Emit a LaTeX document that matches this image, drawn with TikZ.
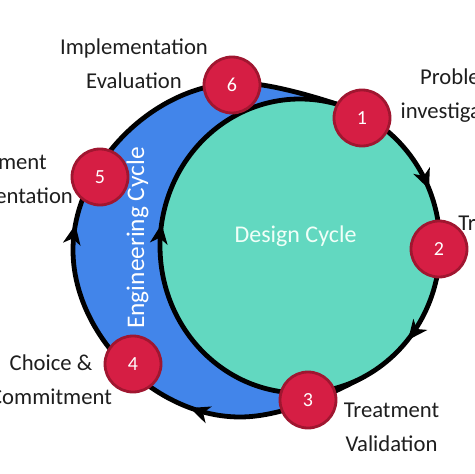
\documentclass[tikz,border=0pt]{standalone}
\usepackage{fontspec}
\setmainfont{Carlito}

\definecolor{dcTeal}{RGB}{98,216,192}
\definecolor{ecBlue}{RGB}{66,133,234}
\definecolor{stepRed}{RGB}{214,30,68}
\definecolor{stepEdge}{RGB}{160,22,48}
\definecolor{lblGray}{RGB}{30,30,30}

\tikzset{every picture/.style={line width=0.75pt}}
\tikzset{
  stepnode/.style={circle, fill=stepRed, draw=stepEdge, line width=2.1pt, minimum size=42pt, inner sep=0pt, text=white, font=\fontsize{15}{17}\selectfont},
  steplabel/.style={inner sep=0.75pt, align=center, text=lblGray, font=\fontsize{17}{25.5}\selectfont},
  cycleline/.style={line width=3.6pt, line join=round, line cap=round}
}

\begin{document}
\begin{tikzpicture}[x=0.75pt,y=0.75pt,yscale=-1,xscale=1]
%uncomment if require: \path (0,474); %set diagram left start at 0, and has height of 474
\useasboundingbox (0,0) rectangle (474,474);

%Shape: Engineering Cycle band [id:dp1]
\fill [ecBlue] (365,376) .. controls (338.7,390.5) and (285,417) .. (240,417) .. controls (155,417) and (73,335) .. (73,250) .. controls (73,165) and (155,83) .. (240,83) .. controls (270,83) and (321.5,98.6) .. (345,107) -- cycle ;
%Curve Lines [id:da1] 
\draw [cycleline] (365,376) .. controls (338.7,390.5) and (285,417) .. (240,417) .. controls (155,417) and (73,335) .. (73,250) .. controls (73,165) and (155,83) .. (240,83) .. controls (270,83) and (321.5,98.6) .. (345,107) ;
%Shape: Ellipse [id:dp2] 
\draw [cycleline, fill=dcTeal] (300,246) ellipse (140 and 147) ;

%Arrow heads
\draw [shift={(429,189)}, rotate = 248] [fill={rgb, 255:red, 0; green, 0; blue, 0 }  ][line width=0.08]  [draw opacity=0] (20,-9) -- (0,0) -- (20,9) -- (14,0) -- cycle    ;
\draw [shift={(408,340)}, rotate = 308.4] [fill={rgb, 255:red, 0; green, 0; blue, 0 }  ][line width=0.08]  [draw opacity=0] (20,-9) -- (0,0) -- (20,9) -- (14,0) -- cycle    ;
\draw [shift={(161.6,224)}, rotate = 98.2] [fill={rgb, 255:red, 0; green, 0; blue, 0 }  ][line width=0.08]  [draw opacity=0] (20,-9) -- (0,0) -- (20,9) -- (14,0) -- cycle    ;
\draw [shift={(190,408)}, rotate = 20.2] [fill={rgb, 255:red, 0; green, 0; blue, 0 }  ][line width=0.08]  [draw opacity=0] (20,-9) -- (0,0) -- (20,9) -- (14,0) -- cycle    ;
\draw [shift={(75.4,224.7)}, rotate = 100.6] [fill={rgb, 255:red, 0; green, 0; blue, 0 }  ][line width=0.08]  [draw opacity=0] (20,-9) -- (0,0) -- (20,9) -- (14,0) -- cycle    ;

% Text Node
\draw (295.5,242) node [anchor=base][inner sep=0.75pt]  [text={rgb, 255:red, 240; green, 255; blue, 248 }, font=\fontsize{18}{22}\selectfont]  (dclbl) {Design Cycle};
% Text Node
\draw (144,238) node [anchor=base, rotate=90][inner sep=0.75pt]  [text=white, font=\fontsize{19}{23}\selectfont]  (eclbl) {Engineering Cycle};

% Text Node
\draw (134,64) node [steplabel] (lbl6) {Implementation\\Evaluation};
% Text Node
\draw (459,96) node [steplabel] (lbl1) {Problem\\investigation};
% Text Node
\draw (506,242) node [steplabel] (lbl2) {Treatment\\Design};
% Text Node
\draw (391.5,427.5) node [steplabel] (lbl3) {Treatment\\Validation};
% Text Node
\draw (51,380) node [steplabel] (lbl4) {Choice \&\\Commitment};
% Text Node
\draw (-1,181.5) node [steplabel] (lbl5) {Treatment\\Implementation};

% Step circles
\draw (362,118) node [stepnode] (n1) {1};
\draw (439,249) node [stepnode] (n2) {2};
\draw (308,400) node [stepnode] (n3) {3};
\draw (133,364) node [stepnode] (n4) {4};
\draw (100,177) node [stepnode] (n5) {5};
\draw (232,85) node [stepnode] (n6) {6};

\end{tikzpicture}
\end{document}
